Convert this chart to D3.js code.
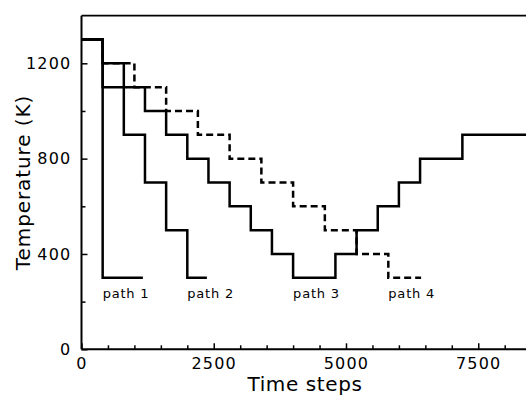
<!DOCTYPE html>
<html>
<head>
<meta charset="utf-8">
<script src="https://cdn.jsdelivr.net/npm/d3@7"></script>
<style>
  html, body { margin: 0; padding: 0; background: #fff; }
  svg { display: block; }
  text { font-family: "DejaVu Sans", sans-serif; fill: #000; }
</style>
</head>
<body>
<svg id="chart" width="526" height="396"></svg>
<script>
// ---- data ----
const xMajorTicks = [0, 2500, 5000, 7500];
const xMinorTicks = [500, 1000, 1500, 2000, 3000, 3500, 4000, 4500, 5500, 6000, 6500, 7000, 8000];
const yMajorTicks = [0, 400, 800, 1200];
const yMinorTicks = [200, 600, 1000];

// breakpoints (time steps) and the temperature held after each breakpoint
const path1Times = [0, 400, 1160];
const path1Temps = [1300, 300];
const path2Times = [0, 400, 800, 1200, 1600, 2000, 2370];
const path2Temps = [1300, 1200, 900, 700, 500, 300];
const path3Times = [0, 400, 1200, 1600, 2000, 2400, 2800, 3200, 3600, 4000, 4800, 5200, 5600, 6000, 6400, 7200, 8500];
const path3Temps = [1300, 1100, 1000, 900, 800, 700, 600, 500, 400, 300, 400, 500, 600, 700, 800, 900];
const path4Times = [0, 400, 1000, 1600, 2200, 2800, 3400, 4000, 4600, 5200, 5800, 6420];
const path4Temps = [1300, 1200, 1100, 1000, 900, 800, 700, 600, 500, 400, 300];

const pathNames = ["path 1", "path 2", "path 3", "path 4"];
const labelTimes = [400, 2000, 4000, 5800];
const labelTemp = 220;

// ---- layout ----
const svg = d3.select("#chart");
const x = d3.scaleLinear().domain([0, 8500]).range([81.5, 81.5 + 8500 * 0.0529]);
const y = d3.scaleLinear().domain([0, 1400]).range([349.3, 349.3 - 1400 * 0.23833]);

// top border
svg.append("line")
  .attr("x1", x(0)).attr("x2", x(8500))
  .attr("y1", y(1400)).attr("y2", y(1400))
  .attr("stroke", "#000").attr("stroke-width", 1.8);

// axes
function styleAxis(g) {
  g.select(".domain").attr("stroke", "#000").attr("stroke-width", 2);
  g.selectAll(".tick line").attr("stroke", "#000").attr("stroke-width", 1.5);
  g.selectAll("text").style("font-family", "DejaVu Sans, sans-serif")
    .style("font-size", "16px").style("letter-spacing", "1.2px").attr("fill", "#000");
}

const xAxisG = svg.append("g").attr("transform", `translate(0,${y(0)})`)
  .call(d3.axisBottom(x).tickValues(xMajorTicks).tickSize(-6).tickSizeOuter(0).tickPadding(8).tickFormat(d3.format("d")));
styleAxis(xAxisG);
xAxisG.select(".domain").attr("d", `M${x(0)},0H526`);

const xMinorG = svg.append("g").attr("transform", `translate(0,${y(0)})`)
  .call(d3.axisBottom(x).tickValues(xMinorTicks).tickSize(-4).tickSizeOuter(0).tickFormat(""));
xMinorG.select(".domain").remove();
xMinorG.selectAll(".tick line").attr("stroke", "#000").attr("stroke-width", 1.5);

const yAxisG = svg.append("g").attr("transform", `translate(${x(0)},0)`)
  .call(d3.axisLeft(y).tickValues(yMajorTicks).tickSize(-6).tickSizeOuter(0).tickPadding(10).tickFormat(d3.format("d")));
styleAxis(yAxisG);
yAxisG.select(".domain").attr("d", `M0,${y(0)}V${y(1400)}`);

const yMinorG = svg.append("g").attr("transform", `translate(${x(0)},0)`)
  .call(d3.axisLeft(y).tickValues(yMinorTicks).tickSize(-4).tickSizeOuter(0).tickFormat(""));
yMinorG.select(".domain").remove();
yMinorG.selectAll(".tick line").attr("stroke", "#000").attr("stroke-width", 1.5);

// axis titles
svg.append("text")
  .attr("transform", `translate(30,${182.5}) rotate(-90)`)
  .attr("text-anchor", "middle")
  .style("font-size", "20px").style("letter-spacing", "0.9px")
  .text("Temperature (K)");

svg.append("text")
  .attr("x", 305).attr("y", 391)
  .attr("text-anchor", "middle")
  .style("font-size", "20px").style("letter-spacing", "0.6px")
  .text("Time steps");

// paths
function toPoints(times, temps) {
  const pts = times.slice(0, -1).map((t, i) => [t, temps[i]]);
  pts.push([times[times.length - 1], temps[temps.length - 1]]);
  return pts;
}
const line = d3.line().x(d => x(d[0])).y(d => y(d[1])).curve(d3.curveStepAfter);

const series = [
  { times: path4Times, temps: path4Temps, dash: "7,4" },
  { times: path3Times, temps: path3Temps, dash: null },
  { times: path2Times, temps: path2Temps, dash: null },
  { times: path1Times, temps: path1Temps, dash: null }
];
series.forEach(s => {
  svg.append("path")
    .attr("d", line(toPoints(s.times, s.temps)))
    .attr("fill", "none")
    .attr("stroke", "#000")
    .attr("stroke-width", 2.5)
    .attr("stroke-dasharray", s.dash)
    .attr("stroke-linejoin", "miter");
});

// labels
pathNames.forEach((name, i) => {
  svg.append("text")
    .attr("x", x(labelTimes[i]))
    .attr("y", 298)
    .style("font-size", "13px").style("letter-spacing", "0.8px")
    .text(name);
});
</script>
</body>
</html>
